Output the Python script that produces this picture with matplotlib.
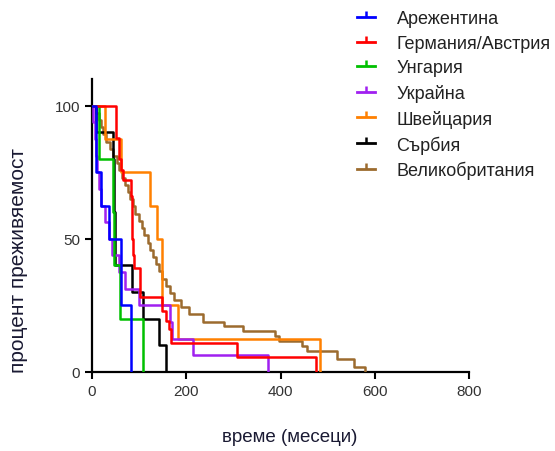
import matplotlib
matplotlib.use("Agg")
import matplotlib.pyplot as plt
from matplotlib.lines import Line2D

plt.rcParams['font.family'] = ['Liberation Sans', 'DejaVu Sans']

# Kaplan-Meier steps: event times (months) and survival (%) after each event
arg_t = [0, 8, 18, 35, 62, 83]
arg_s = [100, 75, 62.5, 50, 25, 0]

ger_t = [0, 51, 57, 61, 66, 82, 84, 85, 87, 89, 102, 149, 156, 163, 168, 307, 475]
ger_s = [100, 88, 80, 76, 72, 66, 58, 50, 44, 39, 28, 23, 19, 16, 11, 5.5, 0]

hun_t = [0, 15, 45, 47, 59, 108]
hun_s = [100, 80, 60, 40, 20, 0]

ukr_t = [0, 3, 6, 8, 10, 14, 20, 28, 36, 42, 58, 70, 100, 165, 170, 215, 374]
ukr_s = [100, 93.75, 87.5, 81.25, 75, 68.75, 62.5, 56.25, 50, 43.75, 37.5,
         31.25, 25, 18.75, 12.5, 6.25, 0]

sui_t = [0, 27, 62, 123, 137, 148, 183, 483]
sui_s = [100, 87.5, 75, 62.5, 50, 25, 12.5, 0]

srb_t = [0, 8, 45, 46, 47, 48, 49, 84, 109, 142, 156]
srb_s = [100, 90, 80, 70, 60, 50, 40, 30, 20, 10, 0]

gbr_t = [0, 8, 15, 20, 24, 30, 38, 45, 52, 58, 64, 70, 76, 81, 86, 92, 99, 105,
         110, 118, 124, 130, 136, 142, 149, 156, 166, 175, 188, 205, 236, 279,
         321, 389, 396, 445, 456, 519, 555, 580]
gbr_s = [100, 97.3, 94.6, 91.9, 89.2, 86.5, 83.8, 81.1, 78.4, 75.7, 73.0, 70.3,
         67.6, 64.9, 62.2, 59.5, 56.8, 54.1, 51.4, 48.6, 45.9, 43.2, 40.5, 37.8,
         35.1, 32.4, 29.7, 27.0, 24.3, 21.6, 18.7, 17.4, 15.3, 13.6, 11.8, 9.9,
         8.0, 4.9, 1.8, 0]

names = ['Арежентина', 'Германия/Австрия', 'Унгария', 'Украйна',
         'Швейцария', 'Сърбия', 'Великобритания']
colors = ['#0000ff', '#ff0000', '#00c000', '#a020f0',
          '#ff8000', '#000000', '#9c6b2e']
series = [(arg_t, arg_s), (ger_t, ger_s), (hun_t, hun_s), (ukr_t, ukr_s),
          (sui_t, sui_s), (srb_t, srb_s), (gbr_t, gbr_s)]

fig = plt.figure(figsize=(5.55, 4.52), dpi=100)
ax = fig.add_axes([0.1658, 0.1748, 0.6793, 0.6482])

for i, ((t, s), c) in enumerate(zip(series, colors)):
    ax.step(t, s, where='post', color=c, lw=1.8, zorder=10 - i)

ax.set_xlim(0, 800)
ax.set_ylim(0, 110)
ax.set_xticks([0, 200, 400, 600, 800])
ax.set_yticks([0, 50, 100])
for side in ['top', 'right']:
    ax.spines[side].set_visible(False)
for side in ['left', 'bottom']:
    ax.spines[side].set_linewidth(1.6)
ax.tick_params(direction='out', length=5, width=1.5, labelsize=11,
               labelcolor='#333333')

ax.set_xlabel('време (месеци)', fontsize=13.5, color='#1a1a33')
ax.xaxis.set_label_coords(0.525, -0.19)
ax.set_ylabel('процент преживяемост', fontsize=15, color='#1a1a33')
ax.yaxis.set_label_coords(-0.17, 0.385)

handles = [Line2D([0], [0], color=c, lw=2, marker=2, markersize=4, mew=1.8)
           for c in colors]
fig.legend(handles, names, loc='upper left', bbox_to_anchor=(0.643, 0.975),
           frameon=False, fontsize=13, handlelength=1.0, handletextpad=1.2,
           labelspacing=0.42, borderpad=0, borderaxespad=0,
           labelcolor='#222222')

fig.savefig('out.png', dpi=100)
